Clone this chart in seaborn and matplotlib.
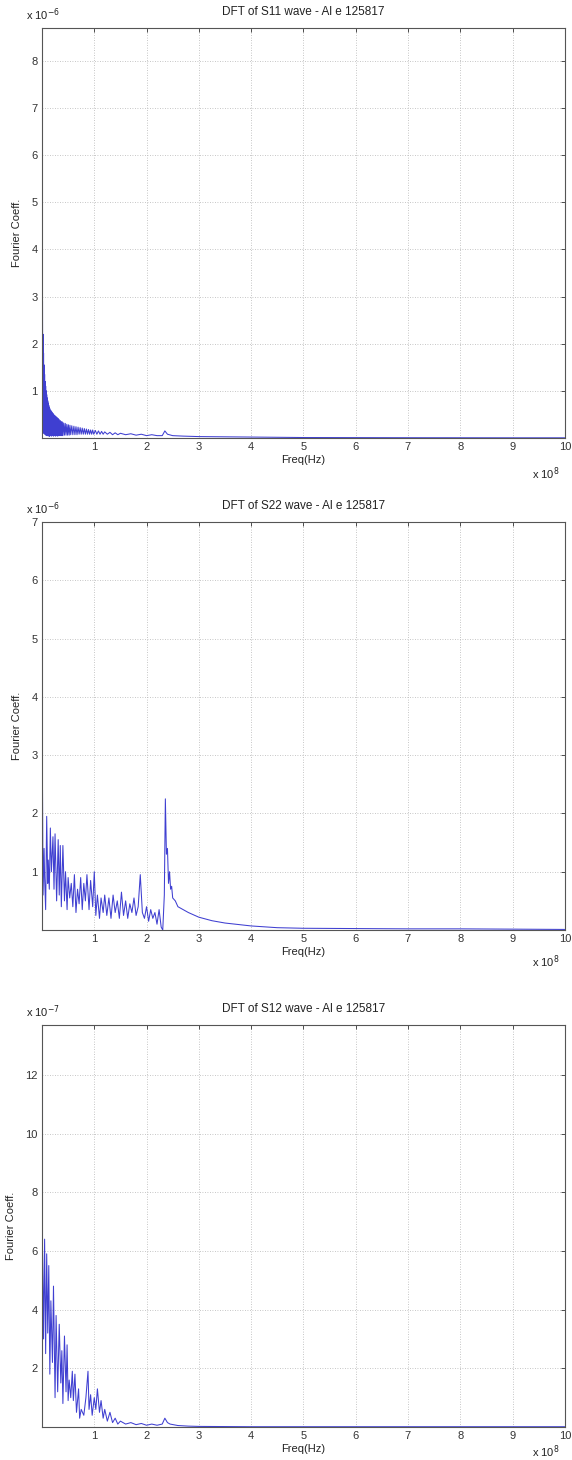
import matplotlib
matplotlib.use("Agg")
import matplotlib.pyplot as plt
import seaborn as sns
import pandas as pd

# ---------------- data (freq in units of 1e8 Hz) ----------------
titles = ["DFT of S11 wave - Al e 125817",
          "DFT of S22 wave - Al e 125817",
          "DFT of S12 wave - Al e 125817"]
y_exponents = [-6, -6, -7]
y_tops = [8.7, 7.0, 13.7]
y_ticks = [[1, 2, 3, 4, 5, 6, 7, 8],
           [1, 2, 3, 4, 5, 6, 7],
           [2, 4, 6, 8, 10, 12]]
x_ticks = [1, 2, 3, 4, 5, 6, 7, 8, 9, 10]

# S11 coefficient (x 1e-6)
s11_freq = [0.010, 0.015, 0.020, 0.025, 0.030, 0.035, 0.040, 0.045, 0.050, 0.055,
            0.060, 0.065, 0.070, 0.075, 0.080, 0.085, 0.090, 0.095, 0.100, 0.105,
            0.110, 0.115, 0.120, 0.125, 0.130, 0.135, 0.140, 0.145, 0.150, 0.160,
            0.170, 0.180, 0.190, 0.200, 0.210, 0.220, 0.230, 0.240, 0.250, 0.260,
            0.270, 0.280, 0.290, 0.300, 0.310, 0.320, 0.330, 0.340, 0.350, 0.360,
            0.370, 0.380, 0.390, 0.400, 0.415, 0.430, 0.445, 0.460, 0.475, 0.490,
            0.505, 0.520, 0.535, 0.550, 0.570, 0.590, 0.610, 0.630, 0.650, 0.670,
            0.690, 0.710, 0.730, 0.750, 0.770, 0.790, 0.810, 0.830, 0.850, 0.870,
            0.890, 0.910, 0.930, 0.950, 0.970, 0.990, 1.020, 1.050, 1.080, 1.110,
            1.140, 1.170, 1.200, 1.250, 1.300, 1.350, 1.400, 1.450, 1.500, 1.600,
            1.700, 1.800, 1.900, 2.000, 2.100, 2.200, 2.300, 2.350, 2.400, 2.500,
            2.700, 3.000, 3.500, 4.000, 4.500, 5.000, 6.000, 7.000, 8.000, 9.000,
            10.000]
s11_coef = [2.90, 0.20, 2.20, 0.15, 1.80, 0.10, 1.55, 0.10, 1.35, 0.08,
            1.20, 0.08, 1.10, 0.06, 1.00, 0.06, 0.92, 0.05, 0.85, 0.05,
            0.79, 0.05, 0.74, 0.05, 0.69, 0.04, 0.65, 0.04, 0.62, 0.05,
            0.58, 0.04, 0.55, 0.05, 0.52, 0.04, 0.49, 0.05, 0.47, 0.04,
            0.45, 0.05, 0.43, 0.04, 0.41, 0.05, 0.39, 0.05, 0.37, 0.05,
            0.35, 0.05, 0.34, 0.05, 0.32, 0.06, 0.31, 0.06, 0.29, 0.06,
            0.28, 0.06, 0.27, 0.07, 0.26, 0.07, 0.25, 0.07, 0.24, 0.07,
            0.23, 0.08, 0.22, 0.08, 0.21, 0.08, 0.20, 0.08, 0.19, 0.08,
            0.18, 0.08, 0.17, 0.08, 0.17, 0.08, 0.16, 0.08, 0.15, 0.08,
            0.14, 0.08, 0.13, 0.08, 0.12, 0.07, 0.11, 0.07, 0.10, 0.07,
            0.09, 0.06, 0.08, 0.05, 0.07, 0.05, 0.05, 0.15, 0.08, 0.05,
            0.04, 0.03, 0.025, 0.02, 0.015, 0.01, 0.008, 0.006, 0.005, 0.004,
            0.004]

# S22 coefficient (x 1e-6)
s22_freq = [0.01, 0.02, 0.04, 0.05, 0.07, 0.09, 0.11, 0.12, 0.14, 0.16,
            0.18, 0.21, 0.23, 0.25, 0.28, 0.31, 0.33, 0.35, 0.37, 0.40,
            0.43, 0.45, 0.48, 0.50, 0.53, 0.56, 0.59, 0.62, 0.65, 0.68,
            0.71, 0.74, 0.77, 0.80, 0.83, 0.86, 0.90, 0.93, 0.97, 1.00,
            1.03, 1.06, 1.10, 1.13, 1.17, 1.20, 1.24, 1.28, 1.32, 1.36,
            1.40, 1.44, 1.48, 1.52, 1.56, 1.60, 1.64, 1.68, 1.72, 1.76,
            1.80, 1.84, 1.88, 1.92, 1.96, 2.00, 2.04, 2.08, 2.12, 2.16,
            2.20, 2.24, 2.28, 2.31, 2.34, 2.36, 2.38, 2.40, 2.42, 2.44,
            2.46, 2.48, 2.50, 2.55, 2.60, 2.70, 2.80, 3.00, 3.25, 3.50,
            4.00, 4.50, 5.00, 6.00, 7.00, 8.00, 9.00, 10.00]
s22_coef = [2.40, 0.60, 1.40, 0.90, 0.35, 1.95, 0.80, 1.20, 0.70, 1.75,
            1.00, 1.60, 0.70, 1.65, 0.50, 1.55, 0.60, 1.45, 0.40, 1.45,
            0.50, 1.00, 0.35, 0.90, 0.55, 0.80, 0.40, 0.95, 0.30, 0.70,
            0.45, 0.90, 0.35, 0.80, 0.50, 0.95, 0.35, 0.85, 0.40, 1.00,
            0.25, 0.60, 0.20, 0.55, 0.30, 0.60, 0.25, 0.55, 0.20, 0.60,
            0.30, 0.50, 0.20, 0.65, 0.25, 0.50, 0.20, 0.45, 0.30, 0.55,
            0.25, 0.40, 0.95, 0.30, 0.20, 0.40, 0.15, 0.35, 0.20, 0.30,
            0.10, 0.35, 0.05, 0.00, 0.60, 2.25, 1.30, 1.40, 0.80, 1.00,
            0.70, 0.75, 0.55, 0.50, 0.40, 0.35, 0.30, 0.22, 0.16, 0.12,
            0.07, 0.04, 0.03, 0.025, 0.02, 0.02, 0.015, 0.01]

# S12 coefficient (x 1e-7)
s12_freq = [0.01, 0.03, 0.05, 0.07, 0.09, 0.11, 0.13, 0.15, 0.17, 0.20,
            0.22, 0.25, 0.27, 0.30, 0.33, 0.36, 0.38, 0.40, 0.43, 0.46,
            0.48, 0.50, 0.52, 0.55, 0.58, 0.60, 0.63, 0.66, 0.70, 0.72,
            0.75, 0.80, 0.84, 0.88, 0.90, 0.93, 0.96, 1.00, 1.03, 1.06,
            1.10, 1.13, 1.17, 1.20, 1.25, 1.30, 1.35, 1.40, 1.45, 1.50,
            1.60, 1.70, 1.80, 1.90, 2.00, 2.10, 2.20, 2.30, 2.35, 2.40,
            2.45, 2.60, 2.80, 3.00, 4.00, 5.00, 6.00, 7.00, 8.00, 9.00, 10.00]
s12_coef = [6.00, 3.00, 6.40, 2.50, 5.90, 3.20, 5.50, 1.80, 4.30, 2.20,
            4.80, 1.00, 3.80, 1.20, 3.50, 1.50, 2.60, 0.80, 3.10, 1.20,
            2.80, 0.90, 1.60, 1.00, 1.90, 0.90, 1.80, 0.50, 1.30, 0.30,
            0.60, 0.40, 1.00, 1.90, 0.60, 1.10, 0.40, 1.00, 0.60, 1.30,
            0.50, 0.90, 0.30, 0.60, 0.20, 0.50, 0.15, 0.30, 0.10, 0.20,
            0.10, 0.15, 0.08, 0.12, 0.06, 0.10, 0.06, 0.10, 0.30, 0.15,
            0.10, 0.05, 0.03, 0.02, 0.01, 0.01, 0.01, 0.01, 0.01, 0.01, 0.01]

series = [(s11_freq, s11_coef), (s22_freq, s22_coef), (s12_freq, s12_coef)]

# ---------------- plotting ----------------
sns.set_style("white")
plt.rcParams['font.family'] = ['Liberation Sans', 'DejaVu Sans']

fig = plt.figure(figsize=(5.72, 14.6), dpi=100)
positions = [[0.0734, 0.700, 0.914, 0.281],
             [0.0734, 0.363, 0.914, 0.2795],
             [0.0734, 0.0226, 0.914, 0.2754]]
ylabel_x = [-0.038, -0.038, -0.050]
xexp_offset = [-26, -23, -18]   # points below axes bottom

line_col = "#2a2acc"
fs = 8
for i, (pos, (fx, fy)) in enumerate(zip(positions, series)):
    ax = fig.add_axes(pos)
    df = pd.DataFrame({"freq": fx, "coef": fy})
    sns.lineplot(data=df, x="freq", y="coef", ax=ax, color=line_col,
                 linewidth=0.75, estimator=None, sort=False, alpha=0.9)
    ax.set_xlim(0, 10)
    ax.set_ylim(0, y_tops[i])
    ax.set_xticks(x_ticks)
    ax.set_yticks(y_ticks[i])
    ax.set_xticklabels([str(t) for t in x_ticks])
    ax.set_yticklabels([str(t) for t in y_ticks[i]])
    ax.tick_params(direction="in", length=3, width=0.6, labelsize=fs,
                   top=True, right=True, colors="#333333", pad=3)
    ax.grid(True, linestyle=(0, (1, 2)), color="#b4b4b4", linewidth=0.6)
    for s in ax.spines.values():
        s.set_color("#555555")
        s.set_linewidth(0.8)
    ax.set_xlabel("Freq(Hz)", fontsize=fs, labelpad=2, color="#222222")
    ax.set_ylabel("Fourier Coeff.", fontsize=fs, color="#222222")
    ax.yaxis.set_label_coords(ylabel_x[i], 0.5)
    ax.set_title(titles[i], fontsize=8.5, pad=9, color="#222222")
    ax.text(-0.03, 1.012, "x 10$^{%d}$" % y_exponents[i], transform=ax.transAxes,
            fontsize=fs, ha="left", va="bottom", color="#222222")
    ax.annotate("x 10$^{8}$", xy=(0.99, 0), xycoords="axes fraction",
                xytext=(0, xexp_offset[i]), textcoords="offset points",
                fontsize=fs, ha="right", va="center", color="#222222")

fig.savefig("out.png", dpi=100, facecolor="white")
